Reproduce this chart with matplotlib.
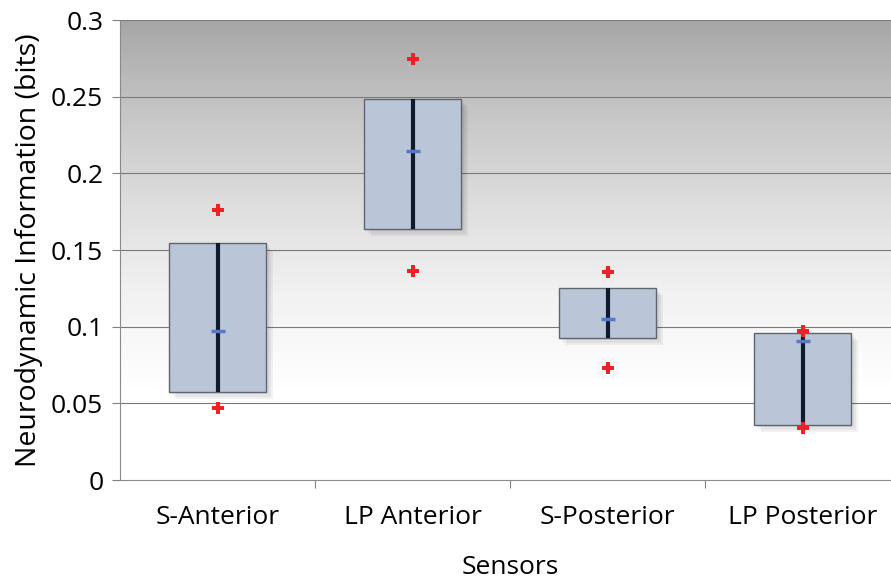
import numpy as np
import matplotlib.pyplot as plt
from matplotlib.patches import Rectangle
from matplotlib.colors import LinearSegmentedColormap

# Data
sensors = ['S-Anterior', 'LP Anterior', 'S-Posterior', 'LP Posterior']
box_top = [0.1546, 0.2485, 0.125, 0.0959]
box_bottom = [0.0574, 0.1637, 0.0926, 0.0359]
line_top = [0.1546, 0.2485, 0.125, 0.097]
line_bottom = [0.0574, 0.1637, 0.0926, 0.034]
median = [0.0972, 0.2146, 0.105, 0.0907]
plus_high = [0.176, 0.2746, 0.1357, 0.097]
plus_low = [0.047, 0.1363, 0.073, 0.0339]

plt.rcParams['font.family'] = ['Open Sans', 'DejaVu Sans']

fig = plt.figure(figsize=(8.91, 5.79), dpi=100)
ax = fig.add_axes([120/891, 99/579, 780/891, 460/579])

xpos = np.arange(len(sensors)) + 0.5
ax.set_xlim(0, 4)
ax.set_ylim(0, 0.3)

# gray gradient background, dark at top
cmap = LinearSegmentedColormap.from_list('bg', [(0, '#ffffff'), (0.2, '#ffffff'), (0.4, '#f2f2f2'),
                                                 (0.6, '#dedede'), (0.8, '#c6c6c6'), (1, '#a6a6a6')])
grad = np.linspace(0, 1, 256).reshape(-1, 1)
ax.imshow(grad, extent=[0, 4, 0, 0.3], origin='lower', aspect='auto', cmap=cmap, zorder=0)

for y in np.arange(0.05, 0.301, 0.05):
    ax.axhline(y, color='#7a7a7a', lw=0.8, zorder=1)

w = 0.5
for i, x in enumerate(xpos):
    # soft shadow
    for k in range(3):
        off = 0.012 * (k + 1)
        ax.add_patch(Rectangle((x - w/2 + off, box_bottom[i] - 0.0015 * (k + 1)), w, box_top[i] - box_bottom[i],
                               facecolor='black', alpha=0.05, lw=0, zorder=2))
    ax.add_patch(Rectangle((x - w/2, box_bottom[i]), w, box_top[i] - box_bottom[i],
                           facecolor='#bac6d8', edgecolor='#5e6470', lw=1.0, zorder=3))
    ax.plot([x, x], [line_bottom[i], line_top[i]], color='#101a2e', lw=3, zorder=4, solid_capstyle='butt')

ax.plot(xpos, median, ls='none', marker='_', ms=10, mew=2.5, color='#5a78c0', zorder=5)
ax.plot(xpos, plus_high, ls='none', marker='P', ms=9, color='#ee2222', mew=0, zorder=6)
ax.plot(xpos, plus_low, ls='none', marker='P', ms=9, color='#ee2222', mew=0, zorder=6)

ax.set_yticks(np.arange(0, 0.301, 0.05))
ax.set_yticklabels(['0', '0.05', '0.1', '0.15', '0.2', '0.25', '0.3'], fontsize=19)
ax.set_xticks([1, 2, 3])
ax.set_xticklabels([])
ax.set_xticks(xpos, minor=True)
ax.set_xticklabels(sensors, minor=True, fontsize=19)
ax.tick_params(axis='x', which='minor', length=0, pad=18)
ax.tick_params(axis='x', which='major', length=6, color='#808080', direction='out')
ax.tick_params(axis='y', length=6, color='#808080', direction='out', pad=6)

for s in ['top', 'right']:
    ax.spines[s].set_visible(False)
for s in ['left', 'bottom']:
    ax.spines[s].set_color('#8a8a8a')

ax.set_xlabel('Sensors', fontsize=19, labelpad=18)
ax.set_ylabel('Neurodynamic Information (bits)', fontsize=20.5, labelpad=6)

fig.savefig('out.png', dpi=100)
